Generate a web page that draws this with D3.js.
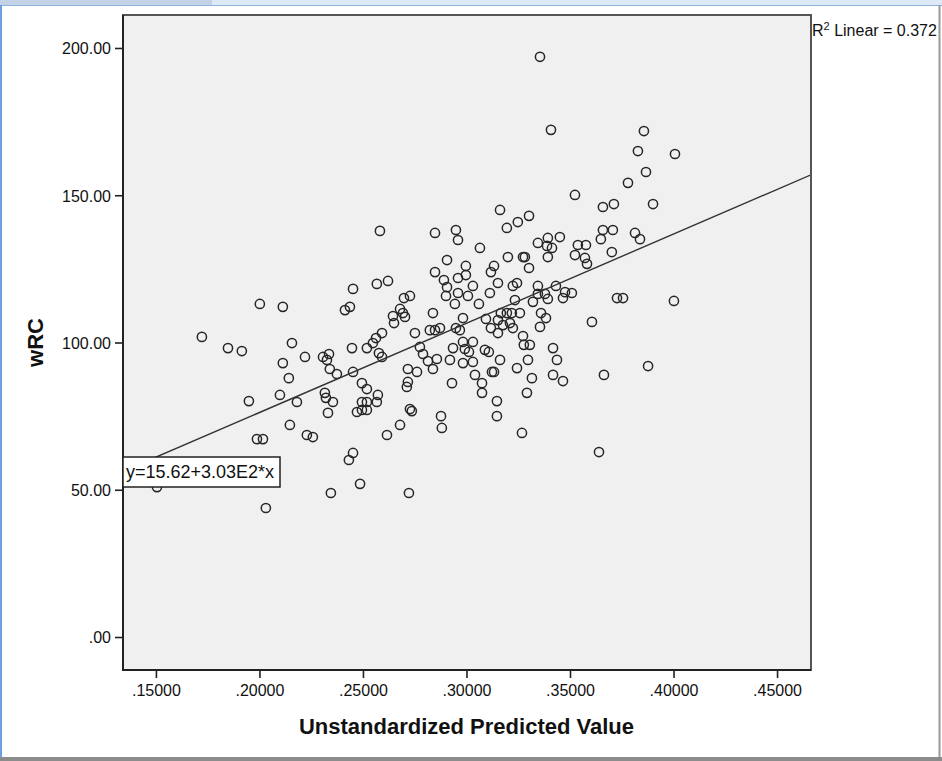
<!DOCTYPE html>
<meta charset="utf-8">
<style>
    body {
        margin: 0;
        background-color: #fff;
    }

    svg {
        display: block;
        font-family: "Liberation Sans", Arial, sans-serif;
    }

    .tick text {
        font-size: 16px;
        fill: #111;
    }

    .titulo {
        font-weight: bold;
        font-size: 22px;
        fill: #111;
    }
</style>
<script src="https://cdn.jsdelivr.net/npm/d3@7"></script>
<svg width="942" height="761"></svg>
<script>
    // valores (predito, wRC)
    var predicted = [
        0.1722, 0.1848, 0.1915, 0.2002, 0.1949, 0.1988, 0.2017, 0.1505, 0.2031,
        0.2582, 0.2567, 0.2621, 0.2452, 0.2413, 0.2437, 0.2113, 0.2698, 0.2727, 0.2679,
        0.2693, 0.2703, 0.2645, 0.2650, 0.2838, 0.2592, 0.2563, 0.2548, 0.2519, 0.2751,
        0.2447, 0.2157, 0.2220, 0.2307, 0.2336, 0.2326, 0.2340, 0.2374, 0.2452, 0.2577,
        0.2592, 0.2775, 0.2790, 0.2814, 0.2838, 0.2857, 0.2113, 0.2142, 0.2099, 0.2181,
        0.2316, 0.2321, 0.2355, 0.2495, 0.2519, 0.2572, 0.2495, 0.2519, 0.2567, 0.2471,
        0.2495, 0.2519, 0.2331, 0.2717, 0.2761, 0.2717, 0.2712, 0.2727, 0.2736, 0.2147,
        0.2679, 0.2229, 0.2258, 0.2616, 0.2877, 0.2881,
        0.2432, 0.2452, 0.2345, 0.2486, 0.2722,
        0.3162, 0.3248, 0.3302, 0.3195, 0.2848, 0.2949, 0.2959, 0.3065, 0.3345, 0.3393,
        0.3451, 0.3389, 0.3413, 0.3393, 0.3200, 0.3273, 0.3282, 0.3302, 0.2906, 0.2997,
        0.2848, 0.2959, 0.2997, 0.2891, 0.2906, 0.2901, 0.2959, 0.3007, 0.3031, 0.2944,
        0.3060, 0.3113, 0.3118, 0.3133, 0.3152, 0.3224, 0.3244, 0.3234, 0.3345, 0.3432,
        0.3345, 0.3379, 0.3393, 0.3321, 0.3466, 0.3476, 0.2983, 0.3094, 0.3166, 0.3195,
        0.3219, 0.3152, 0.3176, 0.3210, 0.3258, 0.3360, 0.3384, 0.3355, 0.2823, 0.2848,
        0.2872, 0.2949, 0.2968, 0.3118, 0.3152, 0.3224, 0.3273, 0.3277, 0.3306, 0.2983,
        0.3031, 0.2935, 0.2992, 0.3012, 0.3089, 0.3108, 0.3418, 0.2920, 0.2983, 0.3031,
        0.3162, 0.3297, 0.3437, 0.3041, 0.3123, 0.3133, 0.3244, 0.3316, 0.3418, 0.3466,
        0.2930, 0.3075, 0.3075, 0.3292, 0.3147, 0.3147, 0.3268,
        0.3857, 0.3828, 0.4007, 0.3867, 0.3780, 0.3524, 0.3659, 0.3712, 0.3901, 0.3659,
        0.3707, 0.3649, 0.3814, 0.3838, 0.3538, 0.3577, 0.3524, 0.3572, 0.3582, 0.3702,
        0.3509, 0.3727, 0.3756, 0.4002, 0.3606, 0.3664, 0.3877, 0.3640,
        0.3355, 0.3408
    ];

    var wrc = [
        101.9, 98.1, 97.1, 113.1, 80.1, 67.2, 67.2, 50.9, 43.8,
        137.9, 119.9, 120.9, 118.2, 111.0, 112.1, 112.1, 115.1, 115.8, 111.4,
        110.0, 108.7, 109.0, 106.6, 110.0, 103.2, 101.5, 99.8, 98.1, 103.2,
        98.1, 99.8, 95.1, 95.1, 96.1, 94.1, 91.0, 89.3, 90.0, 96.4,
        95.1, 98.5, 96.1, 93.7, 91.0, 94.4, 93.0, 87.9, 82.2, 79.8,
        82.9, 81.2, 79.8, 86.2, 84.2, 82.2, 79.8, 79.8, 79.8, 76.4,
        77.1, 77.1, 76.1, 91.0, 90.0, 86.6, 84.9, 77.4, 76.7, 72.0,
        72.0, 68.6, 67.9, 68.6, 75.0, 71.0,
        60.1, 62.5, 48.9, 52.0, 48.9,
        145.0, 140.9, 143.0, 138.9, 137.2, 138.2, 134.8, 132.1, 133.8, 135.5,
        135.8, 132.8, 132.1, 129.0, 129.0, 129.0, 129.0, 125.3, 128.0, 126.0,
        123.9, 121.9, 122.9, 121.2, 118.8, 115.8, 116.8, 115.8, 119.2, 113.1,
        113.1, 116.8, 123.9, 126.0, 120.2, 119.2, 120.2, 114.4, 119.2, 119.2,
        116.5, 116.5, 114.8, 113.8, 115.1, 117.1, 108.3, 108.0, 110.0, 110.0,
        110.0, 107.6, 105.9, 106.6, 110.0, 110.0, 108.3, 105.3, 104.2, 104.2,
        104.9, 104.9, 104.2, 104.9, 103.2, 104.9, 102.2, 99.2, 99.2, 100.2,
        100.2, 98.1, 97.8, 96.8, 97.5, 96.8, 98.1, 94.1, 93.0, 93.4,
        94.1, 94.1, 94.1, 89.0, 90.0, 90.0, 91.3, 87.9, 89.0, 86.9,
        86.2, 86.2, 82.9, 82.9, 80.1, 75.0, 69.3,
        171.8, 165.0, 164.0, 157.9, 154.2, 150.1, 146.0, 147.0, 147.0, 138.2,
        138.2, 135.1, 137.2, 135.1, 133.1, 133.1, 129.7, 128.7, 126.7, 130.7,
        116.8, 115.1, 115.1, 114.1, 107.0, 89.0, 92.0, 62.8,
        197.0, 172.2
    ];

    var xTicks = [0.15, 0.20, 0.25, 0.30, 0.35, 0.40, 0.45];
    var yTicks = [0, 50, 100, 150, 200];

    var intercept = 15.62;
    var slope = 303;
    var r2 = "0.372";
    var equacao = "y=15.62+3.03E2*x";

    var svg = d3.select("svg"),
        width = +svg.attr("width"),
        height = +svg.attr("height");

    // moldura da janela
    svg.append("rect").attr("x", 0).attr("y", 0).attr("width", width).attr("height", 6).attr("fill", "#dde9f7");
    svg.append("rect").attr("x", 0).attr("y", 0).attr("width", 212).attr("height", 5).attr("fill", "#c3d2e6");
    svg.append("line").attr("x1", 0).attr("x2", width).attr("y1", 5.5).attr("y2", 5.5).attr("stroke", "#8fb2de");
    svg.append("line").attr("x1", 1).attr("x2", 1).attr("y1", 5).attr("y2", 757).attr("stroke", "#6b9fe0").attr("stroke-width", 2);
    svg.append("line").attr("x1", 939.5).attr("x2", 939.5).attr("y1", 5).attr("y2", 757).attr("stroke", "#9a9a9a").attr("stroke-width", 2);
    svg.append("rect").attr("x", 0).attr("y", 757).attr("width", width).attr("height", 4).attr("fill", "#8c8c8c");

    var plot = { left: 123, right: 811, top: 15, bottom: 670 };

    var x = d3.scaleLinear()
        .domain([0.1341, 0.4664])
        .range([plot.left, plot.right]);

    var y = d3.scaleLinear()
        .domain([-11.2, 211.2])
        .range([plot.bottom, plot.top]);

    svg.append("rect")
        .attr("x", plot.left)
        .attr("y", plot.top)
        .attr("width", plot.right - plot.left)
        .attr("height", plot.bottom - plot.top)
        .attr("fill", "#f0f0f0");

    svg.append("clipPath")
        .attr("id", "area")
        .append("rect")
        .attr("x", plot.left)
        .attr("y", plot.top)
        .attr("width", plot.right - plot.left)
        .attr("height", plot.bottom - plot.top);

    var semZero = function (f) {
        return function (d) { return f(d).replace(/^0\./, "."); };
    };

    var eixoX = d3.axisBottom(x)
        .tickValues(xTicks)
        .tickSize(8)
        .tickSizeOuter(0)
        .tickFormat(semZero(d3.format(".5f")));

    var eixoY = d3.axisLeft(y)
        .tickValues(yTicks)
        .tickSize(8)
        .tickSizeOuter(0)
        .tickFormat(semZero(d3.format(".2f")));

    var gx = svg.append("g")
        .attr("transform", "translate(0," + plot.bottom + ")")
        .call(eixoX);
    gx.select(".domain").remove();
    gx.selectAll(".tick line").attr("stroke", "#222").attr("stroke-width", 1.6);
    gx.selectAll(".tick text").attr("dy", "0").attr("y", 26).attr("font-family", null).attr("font-size", null);

    var gy = svg.append("g")
        .attr("transform", "translate(" + plot.left + ",0)")
        .call(eixoY);
    gy.select(".domain").remove();
    gy.selectAll(".tick line").attr("stroke", "#222").attr("stroke-width", 1.6);
    gy.selectAll(".tick text").attr("x", -12).attr("dy", "0.36em").attr("font-family", null).attr("font-size", null);

    // pontos
    var pontos = predicted.map(function (p, i) { return { x: p, y: wrc[i] }; });

    svg.append("g")
        .attr("clip-path", "url(#area)")
        .selectAll("circle")
        .data(pontos)
        .enter().append("circle")
        .attr("cx", function (d) { return x(d.x); })
        .attr("cy", function (d) { return y(d.y); })
        .attr("r", 4.6)
        .attr("fill", "none")
        .attr("stroke", "#262626")
        .attr("stroke-width", 1.5);

    // reta de regressão
    var dominio = x.domain();
    svg.append("line")
        .attr("clip-path", "url(#area)")
        .attr("x1", x(dominio[0]))
        .attr("y1", y(intercept + slope * dominio[0]))
        .attr("x2", x(dominio[1]))
        .attr("y2", y(intercept + slope * dominio[1]))
        .attr("stroke", "#333")
        .attr("stroke-width", 1.4);

    // borda da área
    svg.append("path")
        .attr("d", "M" + plot.left + "," + plot.top + "H" + plot.right + "V" + plot.bottom + "H" + plot.left + "Z")
        .attr("fill", "none")
        .attr("stroke", "#555")
        .attr("stroke-width", 2);
    svg.append("path")
        .attr("d", "M" + plot.left + "," + plot.top + "V" + plot.bottom + "H" + plot.right)
        .attr("fill", "none")
        .attr("stroke", "#222")
        .attr("stroke-width", 2);

    // caixa da equação
    svg.append("rect")
        .attr("x", plot.left)
        .attr("y", 457)
        .attr("width", 157)
        .attr("height", 30)
        .attr("fill", "#fff")
        .attr("stroke", "#222")
        .attr("stroke-width", 1.5);
    svg.append("text")
        .attr("x", plot.left + 3)
        .attr("y", 478)
        .attr("font-size", 18)
        .attr("fill", "#111")
        .text(equacao);

    // R²
    var r2txt = svg.append("text")
        .attr("x", plot.right + 1)
        .attr("y", 36)
        .attr("font-size", 16)
        .attr("fill", "#111");
    r2txt.append("tspan").text("R");
    r2txt.append("tspan").attr("dy", -6).attr("font-size", 11).text("2");
    r2txt.append("tspan").attr("dy", 6).text(" Linear = " + r2);

    // títulos
    svg.append("text")
        .attr("class", "titulo")
        .attr("x", (x(0.15) + x(0.45)) / 2)
        .attr("y", 734)
        .attr("text-anchor", "middle")
        .text("Unstandardized Predicted Value");

    svg.append("text")
        .attr("class", "titulo")
        .attr("transform", "translate(43," + y(100) + ") rotate(-90)")
        .attr("text-anchor", "middle")
        .text("wRC");
</script>
